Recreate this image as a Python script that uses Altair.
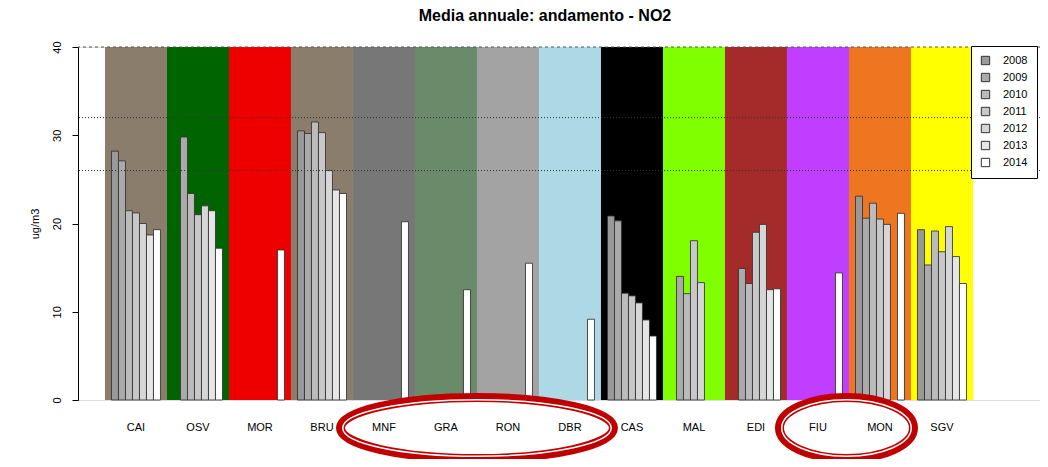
import altair as alt
import pandas as pd

stations = ["CAI", "OSV", "MOR", "BRU", "MNF", "GRA", "RON", "DBR",
            "CAS", "MAL", "EDI", "FIU", "MON", "SGV"]
bg_colors = ["#8B7D6B", "#006400", "#EE0000", "#8B7D6B", "#777777", "#698B69",
             "#A3A3A3", "#ADD8E6", "#000000", "#7FFF00", "#A52A2A", "#BF3EFF",
             "#EE7621", "#FFFF00"]
years = ["2008", "2009", "2010", "2011", "2012", "2013", "2014"]
year_fills = ["#999999", "#AAAAAA", "#BBBBBB", "#C8C8C8", "#D6D6D6", "#E6E6E6", "#FFFFFF"]

N = None
v2008 = [28.2, N, N, 30.5, N, N, N, N, 20.85, N, N, N, 23.1, 19.3]
v2009 = [27.1, 29.8, N, 30.2, N, N, N, N, 20.3, 14.0, 14.9, N, 20.6, 15.3]
v2010 = [21.45, 23.4, N, 31.5, N, N, N, N, 12.1, 12.05, 13.2, N, 22.3, 19.15]
v2011 = [21.2, 21.0, N, 30.3, N, N, N, N, 11.8, 18.05, 19.0, N, 20.5, 16.8]
v2012 = [20.0, 22.0, N, 26.0, N, N, N, N, 11.0, 13.3, 19.9, N, 19.9, 19.65]
v2013 = [18.7, 21.45, N, 23.8, N, N, N, N, 9.07, N, 12.5, N, N, 16.25]
v2014 = [19.3, 17.2, 17.0, 23.4, 20.2, 12.5, 15.5, 9.15, 7.25, N, 12.6, 14.4, 21.15, 13.2]
series = [v2008, v2009, v2010, v2011, v2012, v2013, v2014]

dotted_levels = [32, 26]
top_level = [40]
y_ticks = [0, 10, 20, 30, 40]

title_text = "Media annuale: andamento - NO2"
y_title = "ug/m3"

# annotation anchors (ellipses around label groups)
big_anchor = ["GRA"]
small_anchor = ["FIU"]
ann_level = [-3.17]

rows = []
for y, vals in zip(years, series):
    for s, v in zip(stations, vals):
        if v is not None:
            rows.append({"station": s, "year": y, "value": v})
bars_df = pd.DataFrame(rows)
bg_df = pd.DataFrame({"station": stations, "bg": bg_colors})
dot_df = pd.DataFrame({"level": dotted_levels})
top_df = pd.DataFrame({"level": top_level})
big_df = pd.DataFrame({"station": big_anchor, "lvl": ann_level})
small_df = pd.DataFrame({"station": small_anchor, "lvl": ann_level})

FONT = "Liberation Sans"

x_enc = alt.X(
    "station:N", sort=stations,
    scale=alt.Scale(domain=stations, paddingInner=0, paddingOuter=0.758, align=0.287),
    axis=alt.Axis(title=None, domain=False, ticks=False, labelAngle=0,
                  labelPadding=21, labelFontSize=11, labelColor="#000", labelFont=FONT),
)
y_scale = alt.Scale(domain=[0, 40], nice=False, zero=True)

bg = alt.Chart(bg_df).mark_rect().encode(
    x=x_enc,
    y=alt.Y(datum=0, type="quantitative", scale=y_scale),
    y2=alt.datum(40),
    fill=alt.Fill("bg:N", scale=None),
)

bars = alt.Chart(bars_df).mark_bar(stroke="#333333", strokeWidth=1, strokeOpacity=0.85).encode(
    x=x_enc,
    xOffset=alt.XOffset("year:N", scale=alt.Scale(domain=years, paddingInner=0, paddingOuter=0.93)),
    y=alt.Y("value:Q", scale=y_scale,
            axis=alt.Axis(values=y_ticks, title=y_title, labelAngle=-90, labelAlign="center",
                          labelBaseline="bottom", labelPadding=10, tickSize=6, grid=False,
                          domainColor="#000", tickColor="#000", labelColor="#000",
                          labelFontSize=11, labelFont=FONT, titleFont=FONT,
                          titleFontSize=11, titleFontWeight="normal", titleColor="#000",
                          titlePadding=11)),
    fill=alt.Fill("year:N", scale=alt.Scale(domain=years, range=year_fills),
                  legend=alt.Legend(title=None, orient="none", legendX=893, legendY=-1,
                                    symbolType="square", symbolSize=70,
                                    symbolStrokeColor="#333333", symbolStrokeWidth=1,
                                    labelFontSize=11, labelFont=FONT, labelColor="#000",
                                    rowPadding=4, padding=9, labelOffset=12,
                                    strokeColor="#000000", fillColor="#FFFFFF")),
)

dots = alt.Chart(dot_df).mark_rule(strokeDash=[1, 2], color="#333333", strokeWidth=1).encode(
    y=alt.Y("level:Q", scale=y_scale)
)
topline = alt.Chart(top_df).mark_rule(strokeDash=[3, 3], color="#555555", strokeWidth=1).encode(
    y=alt.Y("level:Q", scale=y_scale)
)

RED = "#C00000"
big_red = "M -0.968 0 A 0.968 0.2163 0 1 0 0.968 0 A 0.968 0.2163 0 1 0 -0.968 0 Z"
big_white = "M -0.952 0 A 0.952 0.2004 0 1 0 0.952 0 A 0.952 0.2004 0 1 0 -0.952 0 Z"
small_red = "M -0.937 0 A 0.937 0.4266 0 1 0 0.937 0 A 0.937 0.4266 0 1 0 -0.937 0 Z"
small_white = "M -0.9056 0 A 0.9056 0.395 0 1 0 0.9056 0 A 0.9056 0.395 0 1 0 -0.9056 0 Z"


def ellipse(df, path, color, width, size, xoff):
    return alt.Chart(df).mark_point(
        shape=path, filled=False, stroke=color, strokeWidth=width, size=size,
        xOffset=xoff, opacity=1, strokeOpacity=1,
    ).encode(x=alt.X("station:N", sort=stations), y=alt.Y("lvl:Q", scale=y_scale))


ell = (ellipse(big_df, big_red, RED, 9, 79524, 31)
       + ellipse(big_df, big_white, "#FFFFFF", 1.5, 79524, 31)
       + ellipse(small_df, small_red, RED, 9, 20449, 28.5)
       + ellipse(small_df, small_white, "#FFFFFF", 1.5, 20449, 28.5))

chart = alt.layer(bg, bars, dots, topline, ell).properties(
    width=962, height=353,
    title=alt.TitleParams(title_text, font=FONT, fontSize=16, fontWeight="bold",
                          color="#000", anchor="middle", dx=-14, offset=17),
    autosize=alt.AutoSizeParams(type="none"),
    padding={"left": 70, "top": 39, "right": 0, "bottom": 59},
).configure_view(stroke=None).configure(background="#FFFFFF")

chart.save("out.html", embed_options={"renderer": "svg", "actions": False})
